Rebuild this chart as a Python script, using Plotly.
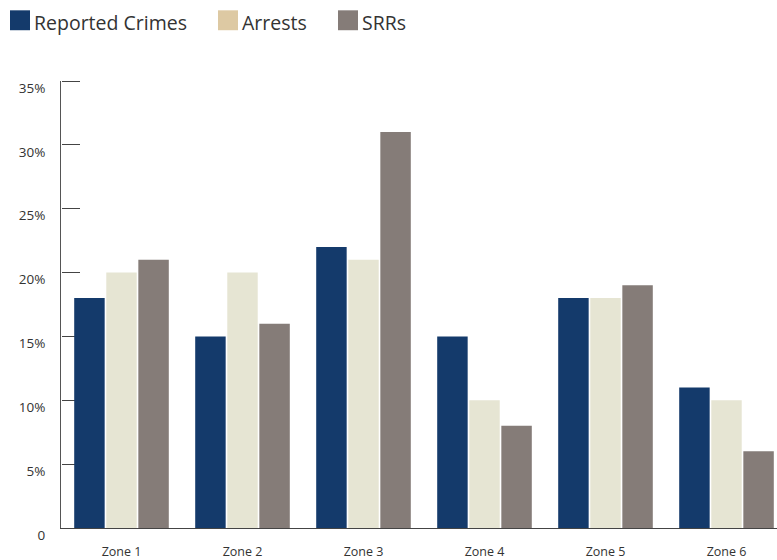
import plotly.graph_objects as go

zones = ["Zone 1", "Zone 2", "Zone 3", "Zone 4", "Zone 5", "Zone 6"]
reported_crimes = [18, 15, 22, 15, 18, 11]
arrests = [20, 20, 21, 10, 18, 10]
srrs = [21, 16, 31, 8, 19, 6]
series_names = ["Reported Crimes", "Arrests", "SRRs"]
tick_vals = [0, 5, 10, 15, 20, 25, 30, 35]
tick_text = ["0", "5%", "10%", "15%", "20%", "25%", "30%", "35%"]

bar_colors = ["#143a6b", "#e6e5d3", "#857c78"]
legend_colors = ["#143a6b", "#ddc9a3", "#857c78"]

W, H = 777, 560
ML, MR, MT, MB = 61, 0, 81, 30
PW, PH = W - ML - MR, H - MT - MB

def px_x(x):
    return (x - ML) / PW

def px_y(y):
    return (H - MB - y) / PH

fig = go.Figure()
for name, vals, col in zip(series_names, [reported_crimes, arrests, srrs], bar_colors):
    fig.add_trace(go.Bar(x=zones, y=vals, name=name, marker=dict(color=col, line=dict(width=0)),
                         showlegend=False))

# manual legend
leg_x = [10, 218, 338]
shapes = []
annotations = []
for lx, name, col in zip(leg_x, series_names, legend_colors):
    shapes.append(dict(type="rect", xref="paper", yref="paper",
                       x0=px_x(lx), x1=px_x(lx + 20), y0=px_y(30), y1=px_y(10),
                       fillcolor=col, line=dict(width=0)))
    annotations.append(dict(xref="paper", yref="paper", x=px_x(lx + 22), y=px_y(22),
                            xanchor="left", yanchor="middle", text=name, showarrow=False,
                            font=dict(family="Open Sans", size=19.5, color="#333333")))

fig.update_layout(
    width=W, height=H,
    margin=dict(l=ML, r=MR, t=MT, b=MB),
    paper_bgcolor="white", plot_bgcolor="white",
    barmode="group", bargap=0.205, bargroupgap=0.05,
    shapes=shapes, annotations=annotations,
    xaxis=dict(range=[-0.5, 5.5 - 10 / 121], showgrid=False, showline=True,
               linecolor="#444444", linewidth=1, ticks="",
               ticklabelstandoff=12,
               tickfont=dict(family="Open Sans", size=12.5, color="#333333")),
    yaxis=dict(range=[0, 35], tickvals=tick_vals, ticktext=tick_text, showgrid=False,
               zeroline=False, showline=True, linecolor="#555555", linewidth=1,
               ticks="", ticklabelstandoff=12, ticklabelshift=7,
               tickfont=dict(family="Open Sans", size=13.5, color="#333333")),
    # helper axis that only draws the tick marks pointing into the plot area
    yaxis2=dict(range=[0, 35], tickvals=tick_vals, overlaying="y", anchor="free",
                position=0, side="right", showgrid=False, zeroline=False,
                showline=False, showticklabels=False, ticks="outside", ticklen=18,
                tickcolor="#444444", tickwidth=1, layer="below traces"),
)
# invisible trace so that the helper axis is rendered
fig.add_trace(go.Scatter(x=[zones[0]], y=[0], yaxis="y2", mode="markers",
                         marker=dict(opacity=0), showlegend=False, hoverinfo="skip"))

fig.write_html("out.html")
